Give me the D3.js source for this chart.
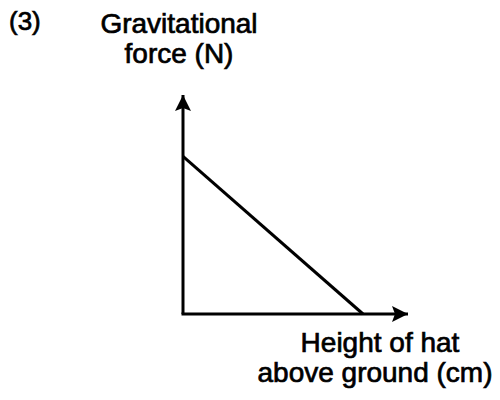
<!DOCTYPE html>
<html>
<head>
<meta charset="utf-8">
<script src="https://cdn.jsdelivr.net/npm/d3@7"></script>
<style>
  html, body { margin: 0; padding: 0; background: #fff; }
  svg { display: block; }
  text { font-family: "Liberation Sans", Arial, Helvetica, sans-serif; fill: #000; stroke: #000; stroke-width: 0.7px; }
</style>
</head>
<body>
<svg id="chart" width="500" height="400"></svg>
<script>
// Gravitational force on the hat falls linearly as its height rises
const heights = [0, 8];          // cm (arbitrary units, no ticks shown)
const forces = [7.2, 0];         // N
const xMax = 10;                 // end of the height axis
const yMax = 10;                 // end of the force axis
const questionLabel = "(3)";
const yTitle = ["Gravitational", "force (N)"];
const xTitle = ["Height of hat", "above ground (cm)"];

const svg = d3.select("#chart");
const origin = { x: 183, y: 314 };

const x = d3.scaleLinear().domain([0, xMax]).range([origin.x, 408]);
const y = d3.scaleLinear().domain([0, yMax]).range([origin.y, 95]);

const defs = svg.append("defs");
defs.append("marker")
  .attr("id", "arrow")
  .attr("viewBox", "0 0 16 16")
  .attr("refX", 16).attr("refY", 8)
  .attr("markerWidth", 16).attr("markerHeight", 16)
  .attr("markerUnits", "userSpaceOnUse")
  .attr("orient", "auto")
  .append("path")
  .attr("d", "M0,0 L16,8 L0,16 L3,8 Z")
  .attr("fill", "#000");

// axes with arrowheads
svg.append("line")
  .attr("x1", x(0)).attr("y1", y(0))
  .attr("x2", x(0)).attr("y2", y(yMax))
  .attr("stroke", "#000").attr("stroke-width", 3)
  .attr("marker-end", "url(#arrow)");
svg.append("line")
  .attr("x1", x(0) - 1.5).attr("y1", y(0))
  .attr("x2", x(xMax)).attr("y2", y(0))
  .attr("stroke", "#000").attr("stroke-width", 3)
  .attr("marker-end", "url(#arrow)");

// the force-height line
const pts = heights.map((h, i) => [h, forces[i]]);
svg.append("path")
  .datum(pts)
  .attr("fill", "none")
  .attr("stroke", "#000")
  .attr("stroke-width", 3)
  .attr("d", d3.line().x(d => x(d[0])).y(d => y(d[1])));

// labels
const fs = 28;
svg.append("text")
  .attr("x", 9).attr("y", 30)
  .attr("font-size", 26)
  .text(questionLabel);

svg.append("text")
  .attr("text-anchor", "middle")
  .attr("font-size", fs)
  .selectAll("tspan")
  .data(yTitle)
  .join("tspan")
  .attr("x", 179)
  .attr("y", (d, i) => 33 + i * 30)
  .text(d => d);

svg.append("text")
  .attr("text-anchor", "middle")
  .attr("font-size", fs)
  .selectAll("tspan")
  .data(xTitle)
  .join("tspan")
  .attr("x", (d, i) => i === 0 ? 380 : 375)
  .attr("y", (d, i) => 352 + i * 30)
  .text(d => d);
</script>
</body>
</html>
